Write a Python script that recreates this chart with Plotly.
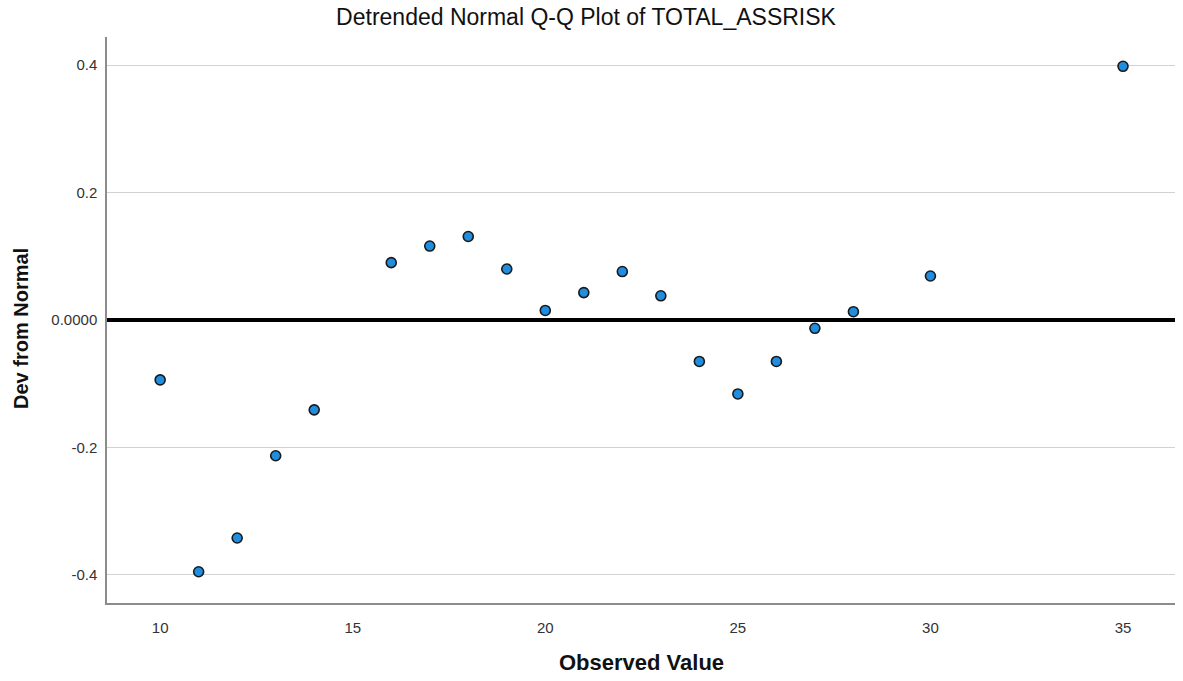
import plotly.graph_objects as go

# Observed TOTAL_ASSRISK values and their deviation from the normal line
observed = [10, 11, 12, 13, 14, 16, 17, 18, 19, 20, 21, 22, 23, 24, 25, 26, 27, 28, 30, 35]
deviation = [-0.094, -0.395, -0.342, -0.213, -0.141, 0.090, 0.116, 0.131, 0.080, 0.015,
             0.043, 0.076, 0.038, -0.065, -0.116, -0.065, -0.013, 0.013, 0.069, 0.398]

x_ticks = [10, 15, 20, 25, 30, 35]
y_ticks = [-0.4, -0.2, 0.0, 0.2, 0.4]
y_tick_text = ["-0.4", "-0.2", "0.0000", "0.2", "0.4"]

W, H = 1183, 681
L, R, T, B = 107, 8, 37, 78
PW, PH = W - L - R, H - T - B


def px_to_paper(px, py):
    """Page pixel position -> paper coordinates of the plot area."""
    return (px - L) / PW, 1 - (py - T) / PH


fig = go.Figure()

fig.add_trace(go.Scatter(
    x=observed, y=deviation, mode="markers",
    marker=dict(size=10, color="#1f8ee0", line=dict(color="#1a1a1a", width=1.6)),
    showlegend=False, hoverinfo="x+y",
))

ox, oy = px_to_paper(641, 662)
dx, dy = px_to_paper(21, 329)

fig.update_layout(
    width=W, height=H,
    margin=dict(l=L, r=R, t=T, b=B),
    paper_bgcolor="white", plot_bgcolor="white",
    font=dict(family="Liberation Sans, Arial, sans-serif", color="#333333", size=15),
    title=dict(text="Detrended Normal Q-Q Plot of TOTAL_ASSRISK",
               x=(586 - L) / PW, xanchor="center", xref="paper",
               y=1 - 17 / H, yanchor="middle", yref="container",
               font=dict(size=23, color="#111111")),
    xaxis=dict(range=[8.62, 36.35], tickvals=x_ticks, showgrid=False, zeroline=False,
               showline=True, linecolor="#8c8c8c", linewidth=1.5, ticks="",
               tickfont=dict(size=15, color="#333333"), ticklabelstandoff=10),
    yaxis=dict(range=[-0.444, 0.444], tickvals=y_ticks, ticktext=y_tick_text,
               showgrid=True, gridcolor="#d2d2d2", gridwidth=1.4,
               zeroline=True, zerolinecolor="#000000", zerolinewidth=3.5,
               showline=True, linecolor="#8c8c8c", linewidth=1.5, ticks="",
               tickfont=dict(size=15, color="#333333"), ticklabelstandoff=5),
    annotations=[
        dict(text="<b>Observed Value</b>", x=ox, y=oy, xref="paper", yref="paper",
             showarrow=False, xanchor="center", yanchor="middle",
             font=dict(size=22, color="#111111")),
        dict(text="<b>Dev from Normal</b>", x=dx, y=dy, xref="paper", yref="paper",
             showarrow=False, xanchor="center", yanchor="middle", textangle=-90,
             font=dict(size=20, color="#111111")),
    ],
)

fig.write_html("out.html")
